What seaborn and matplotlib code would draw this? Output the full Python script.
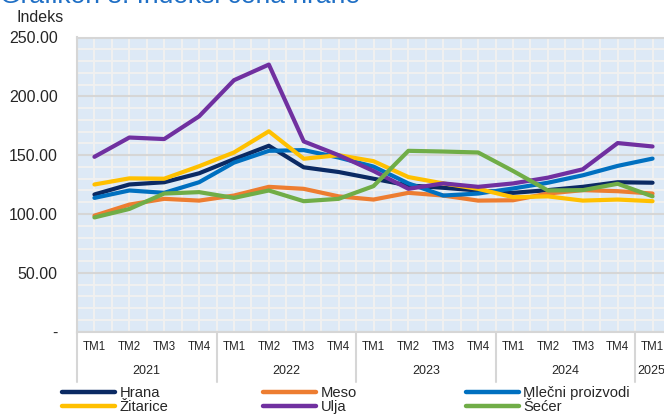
import numpy as np
import pandas as pd
import seaborn as sns
from matplotlib import pyplot as plt
from matplotlib.ticker import MultipleLocator, FixedLocator
from matplotlib.lines import Line2D

quarters = ["TM1", "TM2", "TM3", "TM4"] * 4 + ["TM1"]
years = ["2021", "2022", "2023", "2024", "2025"]

hrana = [116.6, 125.1, 127.0, 134.6, 146.6, 158.0, 139.7, 135.7, 130.0, 124.3, 122.3, 120.0, 118.0, 120.3, 123.1, 127.0, 126.6]
meso = [98.6, 108.0, 112.9, 111.4, 115.7, 123.1, 121.4, 115.0, 112.3, 118.0, 115.7, 111.4, 111.7, 117.4, 120.3, 119.4, 117.4]
mlecni = [113.7, 120.0, 118.0, 127.0, 143.7, 153.7, 154.3, 148.0, 140.3, 126.0, 115.7, 117.4, 121.7, 126.6, 132.9, 140.9, 147.1]
zitarice = [125.1, 130.3, 130.0, 140.6, 152.3, 170.3, 147.0, 150.0, 144.9, 131.4, 126.0, 121.4, 114.3, 115.0, 111.4, 112.3, 110.9]
ulja = [148.6, 165.0, 163.7, 183.0, 213.7, 227.0, 161.7, 150.0, 136.6, 121.4, 126.0, 123.1, 126.0, 130.9, 138.0, 160.3, 157.4]
secer = [97.1, 104.3, 117.4, 118.6, 113.7, 120.0, 110.9, 112.9, 123.7, 153.7, 153.1, 152.3, 136.6, 120.0, 120.3, 125.7, 115.0]

series = {
    "Hrana": hrana,
    "Meso": meso,
    "Mlečni proizvodi": mlecni,
    "Žitarice": zitarice,
    "Ulja": ulja,
    "Šećer": secer,
}
colors = {
    "Hrana": "#0b2a63",
    "Meso": "#ed7d31",
    "Mlečni proizvodi": "#0070c0",
    "Žitarice": "#ffc000",
    "Ulja": "#7030a0",
    "Šećer": "#70ad47",
}

rows = []
for name, vals in series.items():
    for i, v in enumerate(vals):
        rows.append({"pos": i, "serija": name, "vrednost": v})
df = pd.DataFrame(rows)

sns.set_style("white")
plt.rcParams["font.family"] = ["Liberation Sans", "DejaVu Sans"]

fig = plt.figure(figsize=(6.64, 4.17), dpi=100)
ax = fig.add_axes([77 / 664, 1 - 331.7 / 417, 593 / 664, 294.2 / 417])
ax.set_facecolor("#dde9f6")

sns.lineplot(
    df,
    x="pos",
    y="vrednost",
    hue="serija",
    palette=colors,
    linewidth=3,
    legend=False,
    ax=ax,
    zorder=3,
)

ax.set_xlim(-0.5, 16.5)
ax.set_ylim(0, 250)

# grid: fine white-ish lines, every 50 a bit darker
ax.yaxis.set_major_locator(MultipleLocator(50))
ax.yaxis.set_minor_locator(MultipleLocator(10))
ax.xaxis.set_major_locator(FixedLocator(np.arange(17)))
ax.xaxis.set_minor_locator(FixedLocator(np.arange(-0.5, 17, 1)))
ax.grid(axis="y", which="minor", color="#f0f0f0", linewidth=1.5, zorder=1)
ax.grid(axis="y", which="major", color="#d6d6d6", linewidth=1.5, zorder=1)
ax.grid(axis="x", which="both", color="#f0f0f0", linewidth=1.5, zorder=1)
ax.set_axisbelow(True)

ax.set_yticks(np.arange(0, 251, 50))
ax.set_yticklabels(["-"] + ["{:.2f}".format(v) for v in np.arange(50, 251, 50)])
ax.set_xticks(np.arange(17))
ax.set_xticklabels(quarters)
ax.tick_params(axis="y", which="both", length=0, pad=14, labelsize=11.5)
ax.tick_params(axis="x", which="both", length=0, pad=7, labelsize=8.3)
ax.set_xlabel("")
ax.set_ylabel("")

ax.spines["right"].set_visible(False)
for side in ["top", "bottom", "left"]:
    ax.spines[side].set_color("#d6d6d6")
    ax.spines[side].set_linewidth(1.5)

# year labels and separators under the axis
for k, yr in enumerate(years):
    center = 4 * k + 1.5 if k < 4 else 15.95
    ax.text(center, -0.135, yr, transform=ax.get_xaxis_transform(),
            ha="center", va="center", fontsize=9)
for sep in [-0.5, 3.5, 7.5, 11.5, 15.5]:
    ax.plot([sep, sep], [0, -0.172], transform=ax.get_xaxis_transform(),
            color="#d6d6d6", linewidth=1.5, clip_on=False)

fig.text(16 / 664, 1 - 18 / 417, "Indeks", fontsize=11.5, va="center", ha="left")
fig.text(0, 1 - 3 / 417, "Grafikon 8: Indeksi cena hrane", fontsize=19,
         color="#1f6fc5", va="baseline", ha="left")

# legend in three columns placed like the original
cols = [["Hrana", "Žitarice"], ["Meso", "Ulja"], ["Mlečni proizvodi", "Šećer"]]
starts = [62, 263, 466]
for names, x0 in zip(cols, starts):
    handles = [Line2D([], [], color=colors[n], linewidth=3.2, solid_capstyle="round") for n in names]
    fig.legend(
        handles, names,
        loc="upper left",
        bbox_to_anchor=(x0 / 664, 1 - 386 / 417),
        frameon=False,
        fontsize=10.6,
        handlelength=3.6,
        handletextpad=0.3,
        labelspacing=0.0,
        borderpad=0,
        borderaxespad=0,
    )

fig.savefig("out.png", dpi=100)
